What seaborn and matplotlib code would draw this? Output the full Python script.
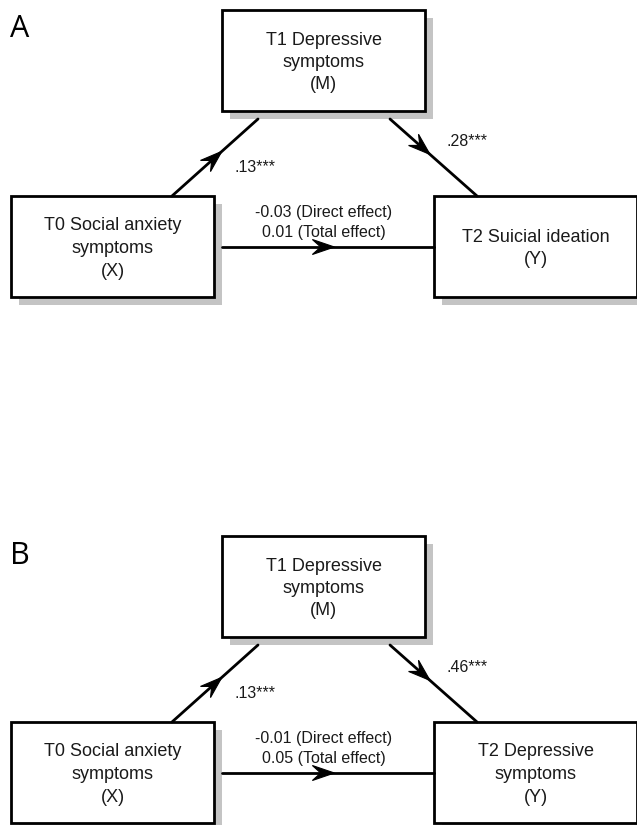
import numpy as np
import pandas as pd
import matplotlib
matplotlib.use("Agg")
import matplotlib.pyplot as plt
from matplotlib.patches import Rectangle, Polygon
import seaborn as sns

# ---- data ----
panel_letters = ["A", "B"]
mediator_labels = ["T1 Depressive\nsymptoms\n(M)", "T1 Depressive\nsymptoms\n(M)"]
predictor_labels = ["T0 Social anxiety\nsymptoms\n(X)", "T0 Social anxiety\nsymptoms\n(X)"]
outcome_labels = ["T2 Suicial ideation\n(Y)", "T2 Depressive\nsymptoms\n(Y)"]
path_a = [".13***", ".13***"]
path_b = [".28***", ".46***"]
direct_effect = ["-0.03 (Direct effect)", "-0.01 (Direct effect)"]
total_effect = ["0.01 (Total effect)", "0.05 (Total effect)"]

# ---- layout ----
W, H = 637, 825
panel_offsets = [0, 526]
BOX_W, BOX_H = 203, 101
SHADOW = 8
box_pos = {"M": (222, 10), "X": (11, 196), "Y": (434, 196)}

sns.set_theme(style="white")
plt.rcParams["font.family"] = ["Liberation Sans", "DejaVu Sans"]

fig = plt.figure(figsize=(W / 100, H / 100), dpi=100)
ax = fig.add_axes([0, 0, 1, 1])
ax.set_xlim(0, W)
ax.set_ylim(H, 0)
ax.set_axis_off()


def draw_box(x, y, label, spacing, fs=13):
    ax.add_patch(Rectangle((x + SHADOW, y + SHADOW), BOX_W, BOX_H,
                           facecolor="#c4c4c4", edgecolor="none", zorder=1))
    ax.add_patch(Rectangle((x, y), BOX_W, BOX_H, facecolor="white",
                           edgecolor="black", lw=2.0, zorder=2))
    ax.text(x + BOX_W / 2, y + BOX_H / 2 + 2, label, ha="center", va="center",
            fontsize=fs, linespacing=spacing, zorder=3, color="#1a1a1a")


def draw_edge(p0, p1, frac):
    df = pd.DataFrame({"x": [p0[0], p1[0]], "y": [p0[1], p1[1]]})
    sns.lineplot(data=df, x="x", y="y", ax=ax, color="black", lw=2.0,
                 sort=False, estimator=None, zorder=2)
    p0 = np.array(p0, float)
    p1 = np.array(p1, float)
    d = (p1 - p0) / np.linalg.norm(p1 - p0)
    n = np.array([-d[1], d[0]])
    tip = p0 + frac * (p1 - p0)
    L, Wd = 22, 7.5
    pts = [tip, tip - L * d + Wd * n, tip - 0.62 * L * d, tip - L * d - Wd * n]
    ax.add_patch(Polygon(pts, closed=True, facecolor="black",
                         edgecolor="black", lw=0.8, zorder=3))


for i, off in enumerate(panel_offsets):
    ax.text(10, 29 + off + (1 if i else 0), panel_letters[i], fontsize=22,
            family=["Open Sans", "DejaVu Sans"], ha="left", va="center",
            color="black")
    mx, my = box_pos["M"]
    xx, xy = box_pos["X"]
    yx, yy = box_pos["Y"]
    draw_box(mx, my + off, mediator_labels[i], 1.35)
    draw_box(xx, xy + off, predictor_labels[i], 1.45)
    draw_box(yx, yy + off, outcome_labels[i], 1.45)

    # a path: X -> M
    draw_edge((172, xy + off), (258, my + BOX_H + SHADOW + off), 0.58)
    # b path: M -> Y
    draw_edge((390, my + BOX_H + SHADOW + off), (477, yy + off), 0.46)
    # c path: X -> Y
    hy = xy + 51 + off
    draw_edge((xx + BOX_W + SHADOW, hy), (yx, hy), 0.53)

    ax.text(235, 168 + off, path_a[i], fontsize=11.5, ha="left",
            va="center", color="#1a1a1a")
    ax.text(446, 142 + off, path_b[i], fontsize=11.5, ha="left",
            va="center", color="#1a1a1a")
    ax.text(324, 213 + off, direct_effect[i], fontsize=11.5, ha="center",
            va="center", color="#1a1a1a")
    ax.text(324, 232 + off, total_effect[i], fontsize=11.5, ha="center",
            va="center", color="#1a1a1a")

fig.savefig("out.png", dpi=100, facecolor="white")
